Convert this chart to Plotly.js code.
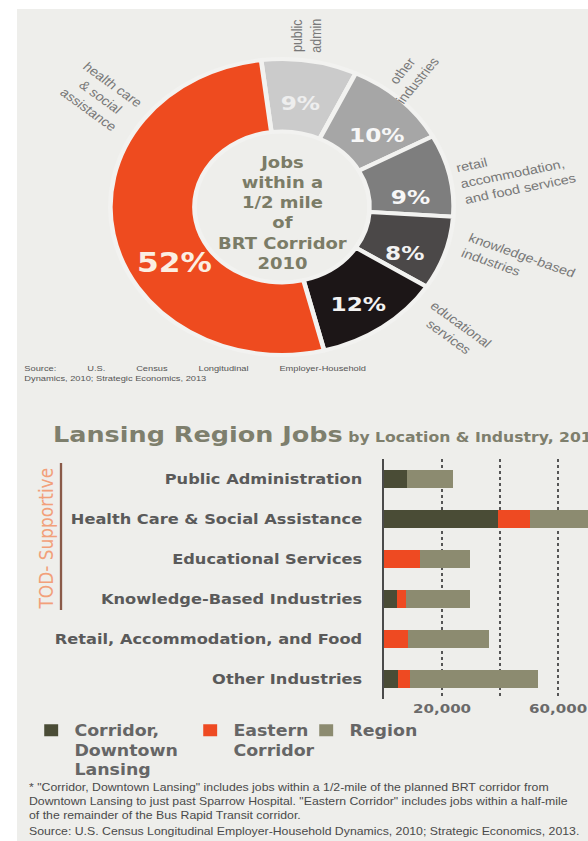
<!DOCTYPE html>
<html>
<head>
<meta charset="utf-8">
<script src="https://cdn.plot.ly/plotly-3.0.1.min.js"></script>
<style>
html,body{margin:0;padding:0;background:#fff;overflow:hidden;}
/* the reference is a horizontally stretched scan: draw at 507px wide and stretch to 588px */
#chart{width:507px;height:841px;transform:scaleX(1.15976);transform-origin:0 0;}
</style>
</head>
<body>
<div id="chart"></div>
<script>
// ---------- Donut data ----------
const donutLabels = ['public<br>admin', 'other<br>industries', 'retail<br>accommodation,<br>and food services', 'knowledge-based<br>industries', 'educational<br>services', 'health care<br>& social<br>assistance'];
const donutShares = [9, 10, 9, 8, 12, 52];
const donutTitle = 'Jobs<br>within a<br>1/2 mile<br>of<br>BRT Corridor<br>2010';

// ---------- Bar data ----------
const industries = ['Public Administration', 'Health Care & Social Assistance', 'Educational Services', 'Knowledge-Based Industries', 'Retail, Accommodation, and Food', 'Other Industries'];
const corridorJobs = [8000, 39300, 0, 4500, 0, 4800];
const easternJobs = [0, 11000, 12400, 3000, 8300, 4000];
const regionJobs = [15800, 28000, 17200, 22100, 27900, 44300];
const seriesNames = ['Corridor,<br>Downtown<br>Lansing', 'Eastern<br>Corridor', 'Region'];
const xTickVals = [20000, 40000, 60000];
const xTickText = ['20,000', '', '60,000'];

// ---------- helpers (reference pixel -> paper) ----------
const RW = 588, H = 841, W = 507;
const px = x => x / RW;
const py = y => 1 - y / H;

const sliceColors = ['#cbcbcb', '#a6a6a6', '#7e7e7e', '#4b4848', '#1c1617', '#ee4b1f'];
const cx = 282, cy = 207, Rv = 148;
const halfW = Rv / W;

const donut = {
  type: 'pie',
  values: donutShares,
  labels: donutLabels,
  sort: false,
  direction: 'clockwise',
  rotation: -7,
  hole: 0.51,
  textinfo: 'none',
  marker: {colors: sliceColors, line: {color: '#f2f2f0', width: 4}},
  domain: {x: [px(cx) - halfW, px(cx) + halfW], y: [py(cy + Rv), py(cy - Rv)]},
  showlegend: false,
  hoverinfo: 'label+percent'
};

const barColors = ['#4a4c36', '#ee4a22', '#8c8b70'];
const barSeries = [corridorJobs, easternJobs, regionJobs];
const legendIds = ['legend', 'legend2', 'legend3'];
const bars = barSeries.map((vals, i) => ({
  type: 'bar',
  orientation: 'h',
  y: industries,
  x: vals,
  name: seriesNames[i],
  marker: {color: barColors[i]},
  legend: legendIds[i],
  xaxis: 'x', yaxis: 'y'
}));

// percent label positions (reference pixels)
const pctPos = [[300, 103], [377, 135], [410, 197], [405, 253], [358, 304], [174, 262]];
const pctSize = [20, 20, 20, 20, 20, 27];
const pctColor = ['#eeeeee', '#f7f7f7', '#f7f7f7', '#f2f2f2', '#f2f2f2', '#fbeee2'];
const pctAnn = donutShares.map((v, i) => ({
  xref: 'paper', yref: 'paper', x: px(pctPos[i][0]), y: py(pctPos[i][1]),
  xanchor: 'center', yanchor: 'middle',
  text: '<b>' + v + '%</b>', showarrow: false,
  font: {family: 'DejaVu Sans', size: pctSize[i], color: pctColor[i]}
}));

// outer labels
const outPos = [[307, 36], [410, 76], [516, 173], [518, 263], [455, 331], [100, 98]];
const outAngle = [-90, -54, -13, 22, 40, 40];
const outAlign = ['center', 'center', 'left', 'left', 'center', 'center'];
const outAnn = donutLabels.map((t, i) => ({
  xref: 'paper', yref: 'paper', x: px(outPos[i][0]), y: py(outPos[i][1]),
  xanchor: 'center', yanchor: 'middle',
  text: t, showarrow: false, textangle: outAngle[i], align: outAlign[i],
  font: {family: 'Liberation Sans', size: 12.5, color: '#787878'}
}));

const gap = '\u00a0'.repeat(12);
const annotations = [
  ...pctAnn, ...outAnn,
  {xref: 'paper', yref: 'paper', x: px(cx), y: py(213), xanchor: 'center', yanchor: 'middle',
   text: '<b>' + donutTitle + '</b>', showarrow: false,
   font: {family: 'DejaVu Sans', size: 15.5, color: '#7b7c67'}},
  {xref: 'paper', yref: 'paper', x: px(22), y: py(362), xanchor: 'left', yanchor: 'top', align: 'left', showarrow: false,
   text: 'Source:' + gap + 'U.S.' + gap + 'Census' + gap + 'Longitudinal' + gap + 'Employer-Household<br>Dynamics, 2010; Strategic Economics, 2013',
   font: {family: 'Liberation Sans', size: 8, color: '#555555'}},
  {xref: 'paper', yref: 'paper', x: px(46), y: py(539), xanchor: 'center', yanchor: 'middle', textangle: -90, showarrow: false,
   text: 'TOD- Supportive', font: {family: 'DejaVu Sans', size: 17, color: '#f2a07a'}},
  {xref: 'paper', yref: 'paper', x: px(27), y: py(779), xanchor: 'left', yanchor: 'top', align: 'left', showarrow: false,
   text: '* "Corridor, Downtown Lansing" includes jobs within a 1/2-mile of the planned BRT corridor from<br>Downtown Lansing to just past Sparrow Hospital. "Eastern Corridor" includes jobs within a half-mile<br>of the remainder of the Bus Rapid Transit corridor.',
   font: {family: 'Liberation Sans', size: 10.6, color: '#4a4a4a'}},
  {xref: 'paper', yref: 'paper', x: px(27), y: py(831), xanchor: 'left', yanchor: 'middle', align: 'left', showarrow: false,
   text: 'Source: U.S. Census Longitudinal Employer-Household Dynamics, 2010; Strategic Economics, 2013.',
   font: {family: 'Liberation Sans', size: 10.6, color: '#4a4a4a'}}
];

const legendBase = {
  orientation: 'v', xanchor: 'left', yanchor: 'top', y: py(714), valign: 'top',
  bgcolor: 'rgba(0,0,0,0)', borderwidth: 0,
  font: {family: 'DejaVu Sans', size: 15, color: '#666666', weight: 'bold'},
  itemclick: false, itemdoubleclick: false
};

const layout = {
  width: W, height: H,
  margin: {l: 0, r: 0, t: 0, b: 0, pad: 0},
  paper_bgcolor: '#ffffff',
  plot_bgcolor: 'rgba(0,0,0,0)',
  barmode: 'stack',
  bargap: 0.57,
  title: {
    text: '<b>Lansing Region Jobs</b><span style="font-size:13.5px"><b> by Location & Industry, 2010</b></span>',
    x: px(53), xanchor: 'left', xref: 'paper',
    y: py(434), yanchor: 'middle', yref: 'paper',
    font: {family: 'DejaVu Sans', size: 22, color: '#7e7f6d'}
  },
  xaxis: {
    domain: [px(384), 1], range: [0, 70300],
    showgrid: true, gridcolor: '#555555', griddash: 'dot', gridwidth: 1.2,
    tickvals: xTickVals, ticktext: xTickText, ticks: '',
    tickfont: {family: 'DejaVu Sans', size: 13, color: '#6a6a6a', weight: 'bold'},
    zeroline: false, showline: false, fixedrange: true
  },
  yaxis: {
    domain: [py(699), py(459)], type: 'category', autorange: 'reversed',
    showline: true, linecolor: '#4a4a4a', linewidth: 2, showgrid: false, ticks: '',
    ticklabelstandoff: 14,
    tickfont: {family: 'DejaVu Sans', size: 14, color: '#5a5a5a', weight: 'bold'},
    fixedrange: true
  },
  legend: Object.assign({}, legendBase, {x: px(28)}),
  legend2: Object.assign({}, legendBase, {x: px(187)}),
  legend3: Object.assign({}, legendBase, {x: px(303)}),
  shapes: [
    {type: 'rect', xref: 'paper', yref: 'paper', x0: px(17), x1: 1, y0: 0, y1: py(9),
     fillcolor: '#eeeeeb', line: {width: 0}, layer: 'below'},
    {type: 'line', xref: 'paper', yref: 'paper', x0: px(61), x1: px(61), y0: py(463), y1: py(610),
     line: {color: '#8a5a48', width: 2}}
  ],
  annotations: annotations,
  showlegend: true
};

Plotly.newPlot('chart', [donut, ...bars], layout, {displayModeBar: false, staticPlot: true});
</script>
</body>
</html>
